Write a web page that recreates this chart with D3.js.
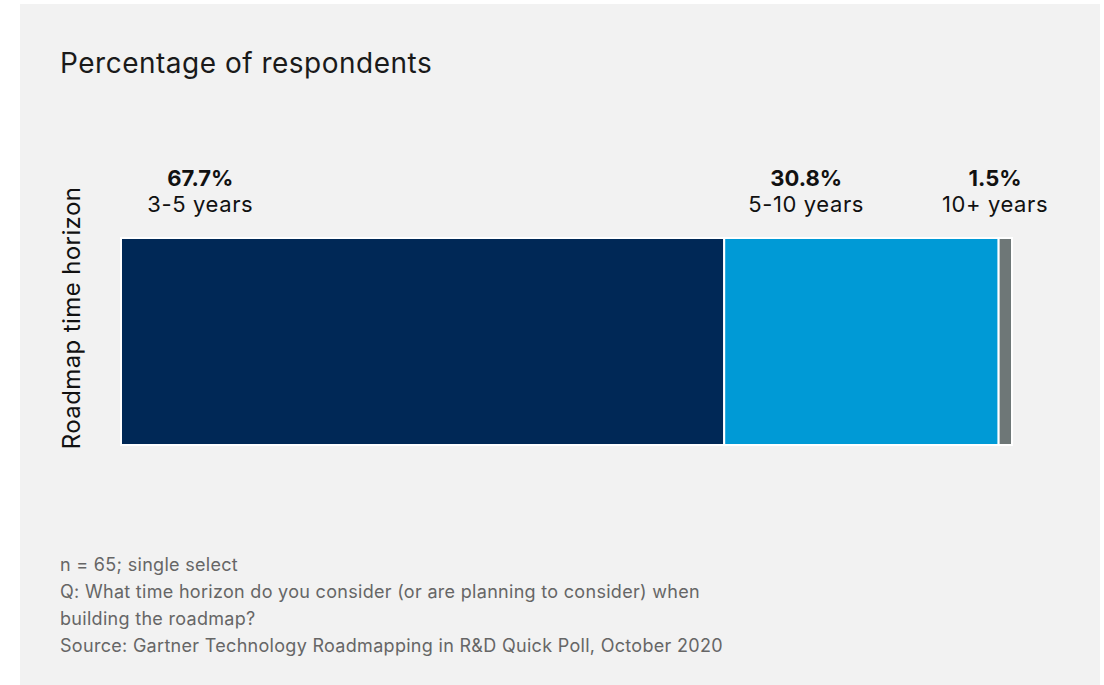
<!DOCTYPE html>
<html lang="en">
  <head>
    <meta charset="utf-8">
    <title>Roadmap time horizon</title>
    <script src="https://d3js.org/d3.v7.min.js"></script>
    <style>
      body { margin: 0; background: #ffffff; }
      text { font-family: Inter, "Open Sans", sans-serif; }
    </style>
  </head>
  <body>
    <script>
    // data
    let categories = ["3-5 years", "5-10 years", "10+ years"];
    let values = [67.7, 30.8, 1.5];
    // where each label sits along the bar, in percent
    let labelAt = [8.9, 76.9, 98.1];
    let colors = ["#002856", "#009ad6", "#6e7777"];
    let notes = [
      "n = 65; single select",
      "Q: What time horizon do you consider (or are planning to consider) when",
      "building the roadmap?",
      "Source: Gartner Technology Roadmapping in R&D Quick Poll, October 2020"
    ];

    let w = 1104;
    let h = 685;

    let svg = d3.select("body")
                .append("svg")
                .attr("width", w)
                .attr("height", h);

    // panel
    svg.append("rect")
      .attr("x", 20).attr("y", 4)
      .attr("width", 1080).attr("height", h - 4)
      .attr("fill", "#f2f2f2");

    svg.append("text")
      .attr("x", 60).attr("y", 73)
      .attr("font-size", "28px")
      .attr("letter-spacing", "0.5px")
      .attr("fill", "#1a1a1a")
      .text("Percentage of respondents");

    // scales
    let xScale = d3.scaleLinear()
                   .domain([0, 100])
                   .range([121, 1012]);
    let yScale = d3.scaleBand()
                   .domain(["Roadmap time horizon"])
                   .range([238, 445]);

    // stacked segments
    let starts = d3.cumsum([0].concat(values.slice(0, -1)));
    let segs = values.map((v, i) => ({cat: categories[i], v: v, x0: starts[i], color: colors[i]}));

    svg.selectAll("rect.seg")
      .data(segs)
      .enter()
      .append("rect")
      .attr("class", "seg")
      .attr("x", d => xScale(d.x0))
      .attr("y", yScale("Roadmap time horizon"))
      .attr("width", d => xScale(d.x0 + d.v) - xScale(d.x0))
      .attr("height", yScale.bandwidth())
      .attr("fill", d => d.color)
      .attr("stroke", "#ffffff")
      .attr("stroke-width", 2);

    // labels
    let lab = svg.selectAll("g.lab")
      .data(segs)
      .enter()
      .append("g")
      .attr("class", "lab")
      .attr("transform", (d, i) => "translate(" + xScale(labelAt[i]) + ",0)");

    lab.append("text")
      .attr("y", 186)
      .attr("text-anchor", "middle")
      .attr("font-size", "22px")
      .attr("font-weight", "bold")
      .attr("fill", "#111")
      .text(d => d.v.toFixed(1) + "%");

    lab.append("text")
      .attr("y", 212)
      .attr("text-anchor", "middle")
      .attr("font-size", "22px")
      .attr("letter-spacing", "0.6px")
      .attr("fill", "#111")
      .text(d => d.cat);

    // y axis title
    svg.append("text")
      .attr("transform", "translate(80,318) rotate(-90)")
      .attr("text-anchor", "middle")
      .attr("font-size", "24px")
      .attr("letter-spacing", "0.4px")
      .attr("fill", "#111")
      .text("Roadmap time horizon");

    // footnotes
    svg.selectAll("text.note")
      .data(notes)
      .enter()
      .append("text")
      .attr("class", "note")
      .attr("x", 60)
      .attr("y", (d, i) => 571 + i * 27)
      .attr("font-size", "18px")
      .attr("letter-spacing", "0.3px")
      .attr("fill", "#666")
      .text(d => d);
    </script>
  </body>
</html>
